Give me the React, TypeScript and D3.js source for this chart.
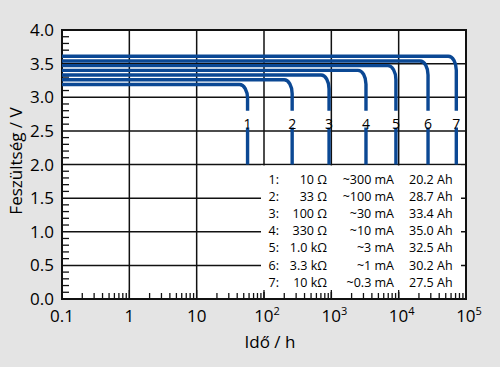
import { useEffect, useRef } from 'react';
import * as d3 from 'd3';

// discharge curves
const CURVE_IDS = ['1', '2', '3', '4', '5', '6', '7'];
const PLATEAU_V = [3.19, 3.26, 3.33, 3.4, 3.47, 3.54, 3.61];
const END_HOURS = [57, 262, 925, 3270, 9100, 27300, 71800];

// legend table
const RESISTANCE = ['10 Ω', '33 Ω', '100 Ω', '330 Ω', '1.0 kΩ', '3.3 kΩ', '10 kΩ'];
const CURRENT = ['~300 mA', '~100 mA', '~30 mA', '~10 mA', '~3 mA', '~1 mA', '~0.3 mA'];
const CAPACITY = ['20.2 Ah', '28.7 Ah', '33.4 Ah', '35.0 Ah', '32.5 Ah', '30.2 Ah', '27.5 Ah'];

// axes
const X_DECADES = [0.1, 1, 10, 100, 1000, 10000, 100000];
const X_TICK_BASE = ['0.1', '1', '10', '10', '10', '10', '10'];
const X_TICK_EXP = ['', '', '', '2', '3', '4', '5'];
const Y_TICKS = [0, 0.5, 1, 1.5, 2, 2.5, 3, 3.5, 4];

const DROP_V = 2.8;
const RESUME_V = 2.55;
const CUTOFF_V = 2.0;
const LABEL_V = 2.6;

const BLUE = '#0b4894';
const INK = '#111';
const FONT = '"Open Sans", sans-serif';

export default function App() {
  const svgRef = useRef<SVGSVGElement>(null);

  useEffect(() => {
    if (!svgRef.current) return;
    const svg = d3.select(svgRef.current);
    svg.selectAll('*').remove();

    const width = 500;
    const height = 367;
    const left = 62;
    const right = 466;
    const top = 30;
    const bottom = 299;

    const x = d3.scaleLog().domain([0.1, 100000]).range([left, right]);
    const y = d3.scaleLinear().domain([0, 4]).range([bottom, top]);

    svg.append('rect').attr('width', width).attr('height', height).attr('fill', '#e4e4e4');
    svg
      .append('rect')
      .attr('x', left)
      .attr('y', top)
      .attr('width', right - left)
      .attr('height', bottom - top)
      .attr('fill', '#fff');

    // grid
    const grid = svg.append('g').attr('stroke', INK).attr('stroke-width', 1.5);
    grid
      .selectAll('line.v')
      .data(X_DECADES.slice(1, -1))
      .enter()
      .append('line')
      .attr('x1', (d) => x(d))
      .attr('x2', (d) => x(d))
      .attr('y1', top)
      .attr('y2', bottom);
    grid
      .selectAll('line.h')
      .data(Y_TICKS.slice(1, -1))
      .enter()
      .append('line')
      .attr('x1', left)
      .attr('x2', right)
      .attr('y1', (d) => y(d))
      .attr('y2', (d) => y(d));

    // legend box hides the grid below 2.0 V
    svg
      .append('rect')
      .attr('x', 261)
      .attr('y', y(CUTOFF_V) + 1)
      .attr('width', 200)
      .attr('height', bottom - y(CUTOFF_V) - 8)
      .attr('fill', '#fff');

    // minor ticks
    const minorX: number[] = [];
    X_DECADES.slice(0, -1).forEach((d) => {
      for (let k = 2; k <= 9; k++) minorX.push(d * k);
    });
    const ticks = svg.append('g').attr('stroke', INK).attr('stroke-width', 1.3);
    ticks
      .selectAll('line.mx')
      .data(minorX)
      .enter()
      .append('line')
      .attr('x1', (d) => x(d))
      .attr('x2', (d) => x(d))
      .attr('y1', bottom)
      .attr('y2', bottom - 6);
    ticks
      .selectAll('line.Mx')
      .data(X_DECADES.slice(1, -1))
      .enter()
      .append('line')
      .attr('x1', (d) => x(d))
      .attr('x2', (d) => x(d))
      .attr('y1', bottom)
      .attr('y2', bottom - 9);
    const minorY = d3.range(1, 40).map((i) => i / 10).filter((v) => Math.round(v * 10) % 5 !== 0);
    ticks
      .selectAll('line.my')
      .data(minorY)
      .enter()
      .append('line')
      .attr('x1', left)
      .attr('x2', left + 7)
      .attr('y1', (d) => y(d))
      .attr('y2', (d) => y(d));

    // frame
    svg
      .append('rect')
      .attr('x', left)
      .attr('y', top)
      .attr('width', right - left)
      .attr('height', bottom - top)
      .attr('fill', 'none')
      .attr('stroke', INK)
      .attr('stroke-width', 2);

    // curves
    const rx = 8;
    const ry = 14;
    const curves = svg.append('g').attr('fill', 'none').attr('stroke', BLUE).attr('stroke-width', 3.4);
    CURVE_IDS.forEach((id, i) => {
      const xe = x(END_HOURS[i]);
      const yv = y(PLATEAU_V[i]);
      curves
        .append('path')
        .attr(
          'd',
          `M${x(0.1)},${yv}H${xe - rx}A${rx},${ry} 0 0 1 ${xe},${yv + ry}V${y(DROP_V)}`
        );
      curves
        .append('line')
        .attr('x1', xe)
        .attr('x2', xe)
        .attr('y1', y(RESUME_V))
        .attr('y2', y(CUTOFF_V));
      svg
        .append('text')
        .attr('x', xe)
        .attr('y', y(LABEL_V) + 5)
        .attr('text-anchor', 'middle')
        .attr('font-family', FONT)
        .attr('font-size', 14)
        .attr('fill', '#000')
        .text(id);
    });

    // legend rows
    const legend = svg
      .append('g')
      .attr('font-family', FONT)
      .attr('font-size', 12.5)
      .attr('fill', '#000');
    CURVE_IDS.forEach((id, i) => {
      const by = 184 + i * 17.1;
      legend.append('text').attr('x', 279).attr('y', by).attr('text-anchor', 'end').text(`${id}:`);
      legend.append('text').attr('x', 327).attr('y', by).attr('text-anchor', 'end').text(RESISTANCE[i]);
      legend.append('text').attr('x', 394).attr('y', by).attr('text-anchor', 'end').text(CURRENT[i]);
      legend.append('text').attr('x', 409).attr('y', by).text(CAPACITY[i]);
    });

    // tick labels
    const labels = svg.append('g').attr('font-family', FONT).attr('font-size', 17).attr('fill', '#000');
    Y_TICKS.forEach((v) => {
      labels
        .append('text')
        .attr('x', 54)
        .attr('y', y(v) + 6)
        .attr('text-anchor', 'end')
        .text(d3.format('.1f')(v));
    });
    X_DECADES.forEach((d, i) => {
      const t = labels
        .append('text')
        .attr('x', x(d) + (X_TICK_EXP[i] ? 3 : 0))
        .attr('y', 322)
        .attr('text-anchor', 'middle');
      t.append('tspan').text(X_TICK_BASE[i]);
      if (X_TICK_EXP[i]) {
        t.append('tspan').attr('dy', -7).attr('font-size', 11).text(X_TICK_EXP[i]);
      }
    });

    // axis titles
    labels
      .append('text')
      .attr('x', 270)
      .attr('y', 348)
      .attr('text-anchor', 'middle')
      .text('Idő / h');
    labels
      .append('text')
      .attr('transform', 'translate(22,161) rotate(-90)')
      .attr('text-anchor', 'middle')
      .text('Feszültség / V');
  }, []);

  return (
    <svg
      ref={svgRef}
      width={500}
      height={367}
      style={{ position: 'absolute', left: 0, top: 0, display: 'block' }}
    ></svg>
  );
}
